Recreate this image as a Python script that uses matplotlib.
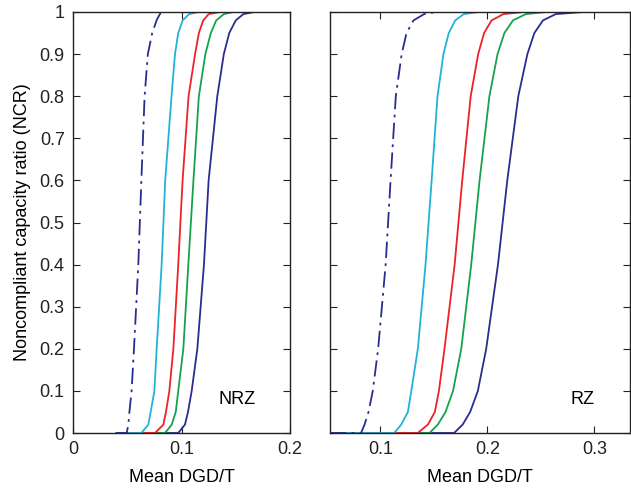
import matplotlib
matplotlib.use("Agg")
import matplotlib.pyplot as plt

plt.rcParams['font.family'] = ['Liberation Sans', 'DejaVu Sans']

# NCR levels shared by all curves
ncr = [0, 0.02, 0.05, 0.1, 0.2, 0.4, 0.6, 0.8, 0.9, 0.95, 0.98, 0.995, 1]

# NRZ panel: mean DGD/T at each NCR level
nrz_dashdot = [0.0495, 0.051, 0.052, 0.054, 0.0562, 0.0602, 0.063, 0.066, 0.069, 0.073, 0.077, 0.080, 0.083]
nrz_cyan    = [0.063, 0.0694, 0.0716, 0.075, 0.0771, 0.0817, 0.085, 0.0908, 0.094, 0.097, 0.101, 0.107, 0.116]
nrz_red     = [0.0756, 0.0833, 0.0857, 0.0888, 0.0925, 0.097, 0.101, 0.1065, 0.1125, 0.116, 0.120, 0.125, 0.136]
nrz_green   = [0.0848, 0.091, 0.0947, 0.097, 0.1017, 0.1063, 0.111, 0.116, 0.122, 0.127, 0.132, 0.139, 0.148]
nrz_navy    = [0.097, 0.1032, 0.106, 0.1094, 0.1146, 0.1207, 0.125, 0.133, 0.139, 0.144, 0.150, 0.157, 0.167]

# RZ panel
rz_dashdot = [0.082, 0.0853, 0.089, 0.093, 0.098, 0.105, 0.1096, 0.1145, 0.120, 0.1245, 0.131, 0.141, 0.152]
rz_cyan    = [0.113, 0.1196, 0.1258, 0.129, 0.1351, 0.1423, 0.148, 0.1535, 0.159, 0.164, 0.170, 0.178, 0.192]
rz_red     = [0.135, 0.1445, 0.151, 0.1548, 0.160, 0.1695, 0.1766, 0.1845, 0.1915, 0.197, 0.204, 0.215, 0.234]
rz_green   = [0.146, 0.1538, 0.161, 0.168, 0.1757, 0.185, 0.1928, 0.202, 0.2096, 0.216, 0.224, 0.236, 0.255]
rz_navy    = [0.169, 0.177, 0.184, 0.1912, 0.199, 0.210, 0.2187, 0.229, 0.2375, 0.244, 0.252, 0.264, 0.290]

nrz_xrange = (0.04, 0.18)
rz_xrange = (0.053, 0.3334)

C_NAVY = '#282d8f'
C_GREEN = '#16a24a'
C_RED = '#ec2227'
C_CYAN = '#22b2d8'
DASHDOT = (0, (9, 3, 1.5, 3))

fig = plt.figure(figsize=(6.31, 4.91), dpi=100)
axL = fig.add_axes([73/631, 1-433/491, 217/631, 421/491])
axR = fig.add_axes([330/631, 1-433/491, 300/631, 421/491])


def draw(ax, xr, series):
    for xs, color, ls in series:
        x = [xr[0]] + list(xs) + [xr[1]]
        y = [0] + list(ncr) + [1]
        ax.plot(x, y, color=color, lw=1.3, linestyle=ls, clip_on=True)


draw(axL, nrz_xrange, [(nrz_navy, C_NAVY, '-'), (nrz_green, C_GREEN, '-'),
                       (nrz_red, C_RED, '-'), (nrz_cyan, C_CYAN, '-'),
                       (nrz_dashdot, C_NAVY, DASHDOT)])
draw(axR, rz_xrange, [(rz_navy, C_NAVY, '-'), (rz_green, C_GREEN, '-'),
                      (rz_red, C_RED, '-'), (rz_cyan, C_CYAN, '-'),
                      (rz_dashdot, C_NAVY, DASHDOT)])

yt = [0, 0.1, 0.2, 0.3, 0.4, 0.5, 0.6, 0.7, 0.8, 0.9, 1]
ytl = ['0', '0.1', '0.2', '0.3', '0.4', '0.5', '0.6', '0.7', '0.8', '0.9', '1']

axL.set_xlim(0, 0.2)
axL.set_xticks([0, 0.1, 0.2])
axL.set_xticklabels(['0', '0.1', '0.2'])
axR.set_xlim(*rz_xrange)
axR.set_xticks([0.1, 0.2, 0.3])
axR.set_xticklabels(['0.1', '0.2', '0.3'])

for ax in (axL, axR):
    ax.set_ylim(0, 1)
    ax.set_yticks(yt)
    ax.tick_params(direction='in', top=True, right=True, length=5,
                   labelsize=13, width=0.8, pad=6, colors='#222222')
    for s in ax.spines.values():
        s.set_linewidth(1.0)
        s.set_color('#222222')
    ax.set_xlabel('Mean DGD/T', fontsize=13, labelpad=8)

axL.set_yticklabels(ytl)
axR.set_yticklabels([])
axL.set_ylabel('Noncompliant capacity ratio (NCR)', fontsize=13, labelpad=6)

axL.text(0.151, 0.08, 'NRZ', fontsize=13, ha='center', va='center')
axR.text(0.289, 0.08, 'RZ', fontsize=13, ha='center', va='center')

fig.savefig('out.png', dpi=100)
